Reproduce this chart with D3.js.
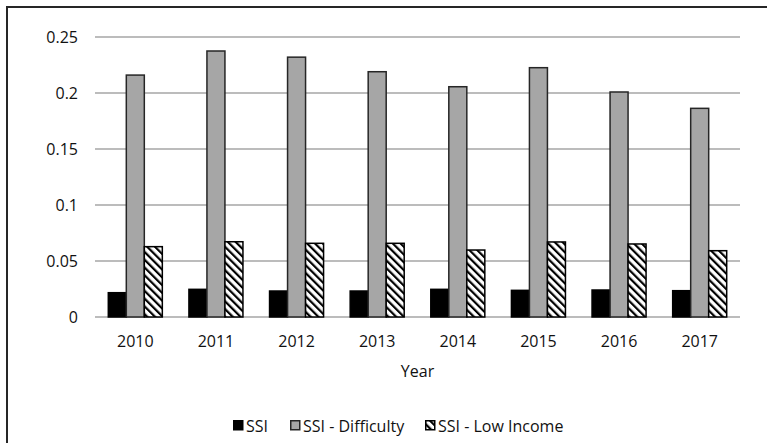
<!DOCTYPE html>
<html>
<head>
<meta charset="utf-8">
<script src="https://cdn.jsdelivr.net/npm/d3@7"></script>
<style>
  html, body { margin: 0; padding: 0; background: #fff; }
  svg { display: block; }
  text { font-family: "Open Sans", "Noto Sans", sans-serif; fill: #111; }
</style>
</head>
<body>
<svg id="chart" width="767" height="443"></svg>
<script>
const years = ["2010", "2011", "2012", "2013", "2014", "2015", "2016", "2017"];
const seriesNames = ["SSI", "SSI - Difficulty", "SSI - Low Income"];
const ssi = [0.0217, 0.0247, 0.0232, 0.0232, 0.0247, 0.0238, 0.0241, 0.0235];
const ssiDifficulty = [0.216, 0.2375, 0.232, 0.219, 0.2056, 0.2226, 0.2009, 0.1863];
const ssiLowIncome = [0.0628, 0.0672, 0.0658, 0.0658, 0.0598, 0.067, 0.0652, 0.0592];
const yTicks = [0, 0.05, 0.1, 0.15, 0.2, 0.25];
const yTickLabels = ["0", "0.05", "0.1", "0.15", "0.2", "0.25"];
const xTitle = "Year";

const seriesValues = [ssi, ssiDifficulty, ssiLowIncome];

const svg = d3.select("#chart");
const W = 767, H = 443;
const plot = { left: 95, right: 740, top: 37, bottom: 317 };
const fontSize = "16px";

// pattern for hatched bars
const defs = svg.append("defs");
const pat = defs.append("pattern")
  .attr("id", "hatch")
  .attr("patternUnits", "userSpaceOnUse")
  .attr("width", 5.5).attr("height", 5.5)
  .attr("patternTransform", "rotate(-45)");
pat.append("rect").attr("width", 5.5).attr("height", 5.5).attr("fill", "#fff");
pat.append("rect").attr("x", 0).attr("y", 0).attr("width", 2.2).attr("height", 5.5).attr("fill", "#000");

const fills = ["#000000", "#a6a6a6", "url(#hatch)"];
const strokes = ["#000000", "#262626", "#000000"];

// frame
svg.append("rect")
  .attr("x", 7).attr("y", 7)
  .attr("width", W + 20).attr("height", H + 20)
  .attr("fill", "none").attr("stroke", "#262626").attr("stroke-width", 2);

const x0 = d3.scaleBand().domain(years).range([plot.left, plot.right]).padding(0);
const groupFrac = 0.67;
const x1 = d3.scaleBand().domain(seriesNames)
  .range([0, x0.bandwidth() * groupFrac]).padding(0);
const y = d3.scaleLinear().domain([0, 0.25]).range([plot.bottom, plot.top]);

// gridlines
svg.append("g").selectAll("line").data(yTicks).join("line")
  .attr("x1", plot.left).attr("x2", plot.right)
  .attr("y1", d => y(d)).attr("y2", d => y(d))
  .attr("stroke", "#a6a6a6").attr("stroke-width", 1.5);

// y tick labels
svg.append("g").selectAll("text").data(yTicks).join("text")
  .attr("x", 78).attr("y", d => y(d))
  .attr("dy", "0.35em")
  .attr("text-anchor", "end")
  .style("font-size", fontSize)
  .text((d, i) => yTickLabels[i]);

// bars
const groupOffset = (x0.bandwidth() - x0.bandwidth() * groupFrac) / 2;
seriesNames.forEach((name, si) => {
  svg.append("g").selectAll("rect").data(seriesValues[si]).join("rect")
    .attr("x", (d, i) => x0(years[i]) + groupOffset + x1(name))
    .attr("y", d => y(d))
    .attr("width", x1.bandwidth())
    .attr("height", d => y(0) - y(d))
    .attr("fill", fills[si])
    .attr("stroke", strokes[si])
    .attr("stroke-width", 1.5);
});

// x labels
svg.append("g").selectAll("text").data(years).join("text")
  .attr("x", d => x0(d) + x0.bandwidth() / 2)
  .attr("y", 346.5)
  .attr("text-anchor", "middle")
  .style("font-size", fontSize)
  .text(d => d);

svg.append("text")
  .attr("x", (plot.left + plot.right) / 2)
  .attr("y", 376.5)
  .attr("text-anchor", "middle")
  .style("font-size", fontSize)
  .text(xTitle);

// legend
const legendX = [233, 290, 425];
const lg = svg.append("g");
seriesNames.forEach((name, i) => {
  lg.append("rect")
    .attr("x", legendX[i] + 0.75).attr("y", 420.75)
    .attr("width", 9).attr("height", 9)
    .attr("fill", fills[i])
    .attr("stroke", strokes[i]).attr("stroke-width", 1.5);
  lg.append("text")
    .attr("x", legendX[i] + 13).attr("y", 431.5)
    .style("font-size", fontSize)
    .text(name);
});
</script>
</body>
</html>
